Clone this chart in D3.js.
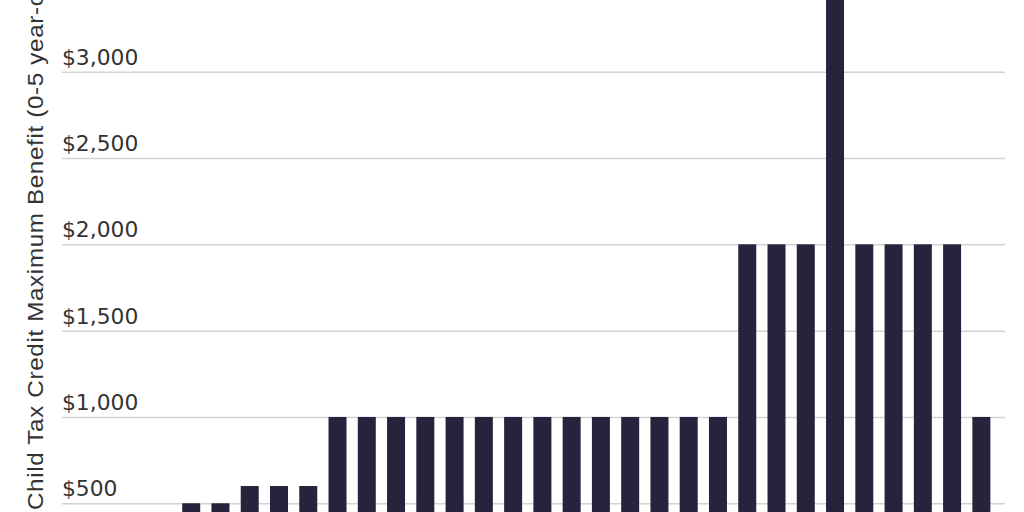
<!DOCTYPE html>
<html>
<head>
<meta charset="utf-8">
<script src="https://cdn.jsdelivr.net/npm/d3@7/dist/d3.min.js"></script>
<style>
  html, body { margin: 0; padding: 0; background: #fff; overflow: hidden; }
  svg { display: block; }
</style>
</head>
<body>
<svg id="chart" width="1024" height="512"></svg>
<script>
// Data
const years = [1998,1999,2000,2001,2002,2003,2004,2005,2006,2007,2008,2009,2010,2011,2012,2013,2014,2015,2016,2017,2018,2019,2020,2021,2022,2023,2024,2025,2026];
const maxBenefit = [400,500,500,600,600,600,1000,1000,1000,1000,1000,1000,1000,1000,1000,1000,1000,1000,1000,1000,2000,2000,2000,3600,2000,2000,2000,2000,1000];
const yTicks = [500,1000,1500,2000,2500,3000];
const yTitle = "Child Tax Credit Maximum Benefit (0-5 year-olds)";

const svg = d3.select("#chart");

const x = d3.scaleBand()
  .domain(years)
  .range([138.3, 1005])
  .paddingInner(0.385)
  .paddingOuter(0.5);

const y = d3.scaleLinear()
  .domain([0, 4000])
  .range([589.6, -100.96]);

// Grid + tick labels
const axis = d3.axisRight(y)
  .tickValues(yTicks)
  .tickSize(943)
  .tickFormat(d => "$" + d3.format(",")(d));

const gAxis = svg.append("g")
  .attr("transform", "translate(62,0)")
  .call(axis);
gAxis.select(".domain").remove();
gAxis.selectAll(".tick line")
  .attr("stroke", "#d3d3d3")
  .attr("stroke-width", 1.5);
gAxis.selectAll(".tick text")
  .attr("x", 0)
  .attr("dy", -7.5)
  .attr("text-anchor", "start")
  .attr("fill", "#333")
  .style("font-family", "'DejaVu Sans', 'Liberation Sans', sans-serif")
  .style("font-size", "21.8px");

// Bars
svg.append("g")
  .selectAll("rect")
  .data(years)
  .join("rect")
  .attr("x", (d) => x(d))
  .attr("width", x.bandwidth())
  .attr("y", (d, i) => y(maxBenefit[i]))
  .attr("height", (d, i) => y(0) - y(maxBenefit[i]))
  .attr("fill", "#28233c");

// Y axis title
svg.append("text")
  .attr("transform", "translate(43,510) rotate(-90) scale(1.1,1)")
  .attr("text-anchor", "start")
  .attr("fill", "#333")
  .style("font-family", "'Liberation Sans', Arial, sans-serif")
  .style("font-size", "22px")
  .style("letter-spacing", "0.6px")
  .text(yTitle);
</script>
</body>
</html>
